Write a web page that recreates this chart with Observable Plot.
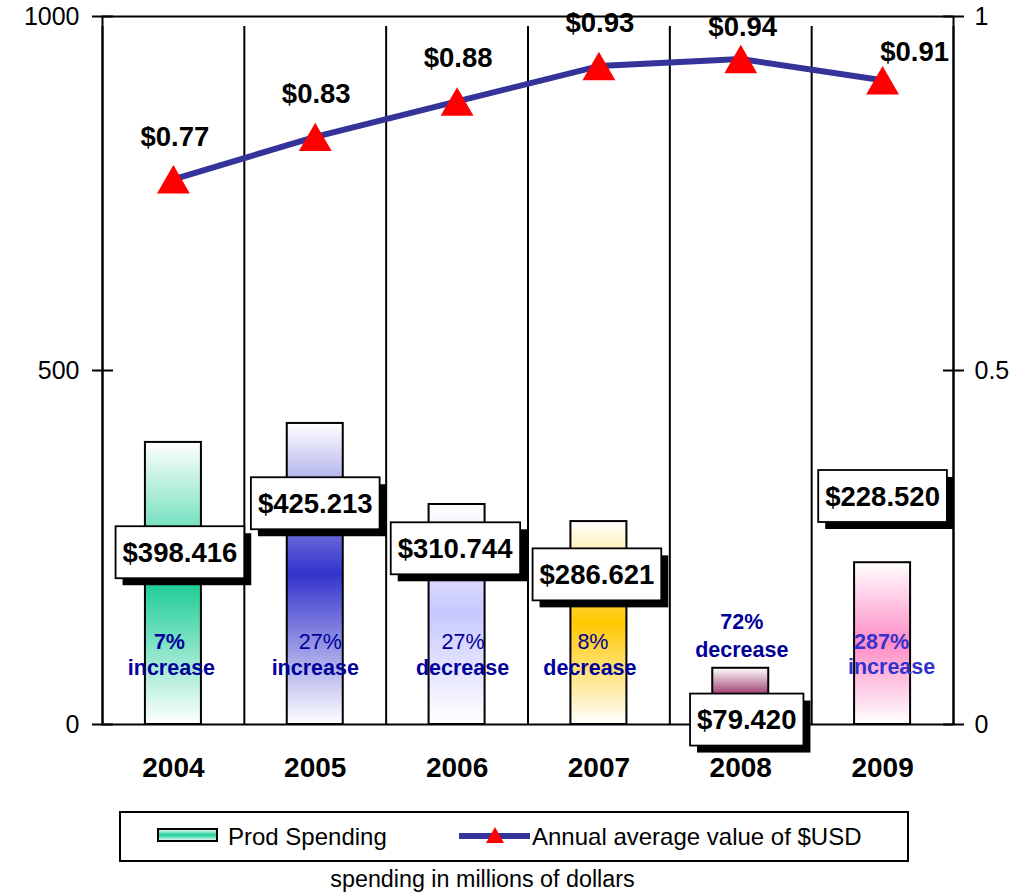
<!DOCTYPE html>
<html>
<head>
<meta charset="utf-8">
<script src="https://cdn.jsdelivr.net/npm/d3@7"></script>
<script src="https://cdn.jsdelivr.net/npm/@observablehq/plot@0.6"></script>
<style>
  html, body { margin: 0; padding: 0; background: #fff; }
  body { font-family: Arial, "Liberation Sans", sans-serif; }
  #wrap { position: relative; width: 1034px; height: 893px; }
  #chart { position: absolute; left: 0; top: 0; }
  #legend { position: absolute; left: 119px; top: 811px; width: 790px; height: 51px;
            border: 2px solid #000; box-sizing: border-box; background: #fff; }
  #legend span { position: absolute; font-size: 24px; line-height: 28px; color: #000; white-space: nowrap; }
  #legend svg { position: absolute; }
  #caption { position: absolute; left: 0; top: 868px; width: 965px; text-align: center;
             font-size: 23.3px; line-height: 23px; color: #000; }
</style>
</head>
<body>
<div id="wrap">
  <div id="chart"></div>
  <div id="legend"></div>
  <div id="caption"></div>
</div>
<script>
// ---------- data ----------
const years = ["2004", "2005", "2006", "2007", "2008", "2009"];
const spending = [398.416, 425.213, 310.744, 286.621, 79.420, 228.520];   // Prod Spending (millions)
const usdValue = [0.77, 0.83, 0.88, 0.93, 0.94, 0.91];                     // Annual average value of $USD
const changePct = ["7%", "27%", "27%", "8%", "72%", "287%"];
const changeWord = ["increase", "increase", "decrease", "decrease", "decrease", "increase"];
const leftTicks = [0, 500, 1000];
const leftTickLabels = ["0", "500", "1000"];
const rightTickLabels = ["0", "0.5", "1"];

// ---------- styles ----------
const barColors = ["#1ccc96", "#3333cc", "#c8c8ff", "#ffc800", "#993366", "#ff8cc6"];
const pctBold = [true, false, false, false, true, true];
const pctColor = ["#000099", "#000099", "#000099", "#000099", "#000099", "#3333cc"];
const FONT = "Arial, 'Liberation Sans', sans-serif";
const LW = 2;

// ---------- layout nudges (pixels) ----------
const boxNudge = [[6.5, 110.5], [0, 80.5], [-2, 44.5], [-2, 53.5], [6, 52], [0, -66]];
const pctNudge = [[-4, -82], [5, -82], [6, -82], [-6, -82], [1, -102], [-1, -82]];
const wordNudge = [[-2, -56], [0, -56], [5.5, -56], [-9, -56], [1, -74], [9, -57]];
const usdNudge = [[1.5, -42], [1, -43], [1, -43], [1, -43], [2, -31.5], [32, -28.5]];

const rows = years.map((year, i) => ({
  year, spend: spending[i], usd: usdValue[i], pct: changePct[i], word: changeWord[i],
  grad: `url(#grad${year})`
}));

const W = 1034, H = 800, ML = 102, MR = 81, MT = 16, MB = 76;
const bw = (W - ML - MR) / years.length;
const barInset = (bw - 56) / 2;

const marks = [
  // vertical grid lines at category boundaries, with small ticks below the axis
  Plot.ruleX(rows, {x: "year", dx: -bw / 2, y1: () => 0, y2: () => 1000, insetBottom: -10, stroke: "#000", strokeWidth: LW}),
  Plot.ruleX([rows[rows.length - 1]], {x: "year", dx: bw / 2, y1: () => 0, y2: () => 1000, insetBottom: -10, stroke: "#000", strokeWidth: LW}),
  // bars
  Plot.barY(rows, {x: "year", y: "spend", fill: "grad", stroke: "#000", strokeWidth: LW, insetLeft: barInset, insetRight: barInset}),
  Plot.frame({stroke: "#000", strokeWidth: LW}),
  // inward halves of y ticks
  Plot.tickY(leftTicks, {y: d => d, x: () => years[0], insetRight: bw - 11, stroke: "#000", strokeWidth: LW}),
  Plot.tickY(leftTicks, {y: d => d, x: () => years[years.length - 1], insetLeft: bw - 10, stroke: "#000", strokeWidth: LW}),
  Plot.axisY({ticks: leftTicks, tickFormat: d => leftTickLabels[leftTicks.indexOf(d)], tickSize: 10, tickPadding: 13, fontSize: 25, label: null, strokeWidth: LW}),
  Plot.axisY({anchor: "right", ticks: leftTicks, tickFormat: d => rightTickLabels[leftTicks.indexOf(d)], tickSize: 10, tickPadding: 11, fontSize: 25, label: null, strokeWidth: LW}),
  Plot.axisX({tickSize: 0, tickPadding: 33, fontSize: 28, fontWeight: "bold", label: null}),
  // USD line on the secondary axis (0..1 mapped onto 0..1000)
  Plot.line(rows, {x: "year", y: d => d.usd * 1000, stroke: "#333399", strokeWidth: 6}),
  Plot.dot(rows, {x: "year", y: d => d.usd * 1000, symbol: "triangle", r: 12.2, fill: "#ff0000", dy: 4.75}),
];

rows.forEach((r, i) => {
  marks.push(Plot.text([r], {x: "year", y: d => d.usd * 1000, text: d => "$" + d.usd.toFixed(2),
    dx: usdNudge[i][0], dy: usdNudge[i][1], fontSize: 27.5, fontWeight: "bold", fill: "#000"}));
  marks.push(Plot.text([r], {x: "year", y: () => 0, text: "pct", dx: pctNudge[i][0], dy: pctNudge[i][1],
    fontSize: 21.5, fontWeight: pctBold[i] ? "bold" : "normal", fill: pctColor[i]}));
  marks.push(Plot.text([r], {x: "year", y: () => 0, text: "word", dx: wordNudge[i][0], dy: wordNudge[i][1],
    fontSize: 21.5, fontWeight: "bold", fill: pctColor[i]}));
});
rows.forEach((r, i) => {
  marks.push(Plot.text([r], {x: "year", y: "spend", text: d => "$" + d.spend.toFixed(3),
    dx: boxNudge[i][0], dy: boxNudge[i][1], fontSize: 27.5, fontWeight: "bold", fill: "#000",
    ariaDescription: "spend-label"}));
});

const svg = Plot.plot({
  width: W, height: H,
  marginLeft: ML, marginRight: MR, marginTop: MT, marginBottom: MB,
  style: {fontFamily: FONT, background: "#fff", overflow: "visible", color: "#000"},
  x: {type: "band", domain: years, padding: 0, round: false, label: null},
  y: {domain: [0, 1000], label: null},
  color: {type: "identity"},
  marks
});
document.getElementById("chart").appendChild(svg);

// gradients for bars
const defs = d3.select(svg).insert("defs", ":first-child");
years.forEach((y, i) => {
  const g = defs.append("linearGradient").attr("id", "grad" + y)
    .attr("x1", 0).attr("y1", 0).attr("x2", 0).attr("y2", 1);
  g.append("stop").attr("offset", "0%").attr("stop-color", "#ffffff");
  g.append("stop").attr("offset", "50%").attr("stop-color", barColors[i]);
  g.append("stop").attr("offset", "100%").attr("stop-color", "#ffffff");
});

// boxed labels with drop shadow around the spending values
const labelTexts = new Set();
svg.querySelectorAll('[aria-description="spend-label"]').forEach(el => {
  if (el.tagName.toLowerCase() === "text") labelTexts.add(el);
  else el.querySelectorAll("text").forEach(t => labelTexts.add(t));
});
labelTexts.forEach(t => {
  const b = t.getBBox();
  const padX = 7, padY = 10.5;
  const x = b.x - padX, y = b.y - padY, w = b.width + 2 * padX, h = b.height + 2 * padY;
  const tr = t.getAttribute("transform");
  const NS = "http://www.w3.org/2000/svg";
  const sh = document.createElementNS(NS, "rect");
  sh.setAttribute("x", x + 7); sh.setAttribute("y", y + 7);
  sh.setAttribute("width", w); sh.setAttribute("height", h);
  sh.setAttribute("fill", "#000");
  const bx = document.createElementNS(NS, "rect");
  bx.setAttribute("x", x); bx.setAttribute("y", y);
  bx.setAttribute("width", w); bx.setAttribute("height", h);
  bx.setAttribute("fill", "#fff"); bx.setAttribute("stroke", "#000"); bx.setAttribute("stroke-width", 1.8);
  if (tr) { sh.setAttribute("transform", tr); bx.setAttribute("transform", tr); }
  t.parentNode.insertBefore(sh, t);
  t.parentNode.insertBefore(bx, t);
});

// legend
const legend = document.getElementById("legend");
legend.innerHTML = `
  <svg width="62" height="15" style="left:36px;top:15px">
    <defs><linearGradient id="legGrad" x1="0" y1="0" x2="0" y2="1">
      <stop offset="0%" stop-color="#ffffff"/><stop offset="50%" stop-color="${barColors[0]}"/><stop offset="100%" stop-color="#ffffff"/>
    </linearGradient></defs>
    <rect x="1" y="1" width="59" height="12" fill="url(#legGrad)" stroke="#000" stroke-width="2"/>
  </svg>
  <span style="left:107px;top:10px">Prod Spending</span>
  <svg width="72" height="24" style="left:338px;top:11px">
    <line x1="0" y1="12" x2="71" y2="12" stroke="#333399" stroke-width="6"/>
    <path d="M36,3 L45,19 L27,19 Z" fill="#ff0000"/>
  </svg>
  <span style="left:411px;top:10px">Annual average value of $USD</span>`;
document.getElementById("caption").textContent = "spending in millions of dollars";
</script>
</body>
</html>
